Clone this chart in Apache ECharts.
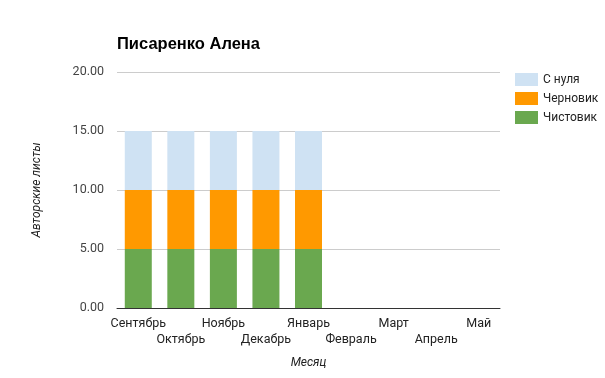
<!DOCTYPE html>
<html><head><meta charset="utf-8">
<script src="https://cdn.jsdelivr.net/npm/echarts@6/dist/echarts.min.js"></script>
<style>html,body{margin:0;padding:0;background:#fff}#c{width:605px;height:378px}</style>
</head><body><div id="c"></div>
<script>
const months = ['Сентябрь','Октябрь','Ноябрь','Декабрь','Январь','Февраль','Март','Апрель','Май'];
const fromScratch = [5,5,5,5,5,0,0,0,0];
const draft = [5,5,5,5,5,0,0,0,0];
const clean = [5,5,5,5,5,0,0,0,0];
const yTicks = [0,5,10,15,20];

const chart = echarts.init(document.getElementById('c'));
const font = 'Roboto, Arial, sans-serif';
chart.setOption({
  animation: false,
  textStyle: {fontFamily: font},
  title: {text: 'Писаренко Алена', left: 112, top: 31,
    textStyle: {fontFamily: 'Arial, Liberation Sans, sans-serif', fontSize: 16.5, fontWeight: 'bold', color: '#000'}},
  legend: {orient: 'vertical', left: 510, top: 68, itemWidth: 23, itemHeight: 13, itemGap: 6,
    icon: 'rect', textStyle: {fontSize: 12, color: '#222', fontFamily: font},
    data: ['С нуля','Черновик','Чистовик']},
  grid: {left: 117, right: 105, top: 72, bottom: 70},
  xAxis: {type: 'category', data: months,
    name: 'Месяц', nameLocation: 'middle', nameGap: 49,
    nameTextStyle: {fontStyle: 'italic', fontSize: 12, color: '#222'},
    axisTick: {show: false},
    axisLine: {lineStyle: {color: '#333'}},
    axisLabel: {interval: 0, fontSize: 12.5, color: '#222', margin: 8, lineHeight: 16,
      formatter: (v, i) => (i % 2 ? '\n' + v : v)}},
  yAxis: {type: 'value', min: 0, max: 20, interval: 5,
    name: 'Авторские листы', nameLocation: 'middle', nameGap: 74,
    nameTextStyle: {fontStyle: 'italic', fontSize: 12, color: '#222'},
    axisLabel: {fontSize: 12.5, color: '#444', margin: 13, formatter: v => v.toFixed(2)},
    splitLine: {lineStyle: {color: '#ccc'}}},
  series: [
    {name: 'Чистовик', type: 'bar', stack: 's', data: clean, barWidth: 27, itemStyle: {color: '#6aa84f'}},
    {name: 'Черновик', type: 'bar', stack: 's', data: draft, barWidth: 27, itemStyle: {color: '#ff9900'}},
    {name: 'С нуля', type: 'bar', stack: 's', data: fromScratch, barWidth: 27, itemStyle: {color: '#cfe2f3'}}
  ]
});
</script></body></html>
